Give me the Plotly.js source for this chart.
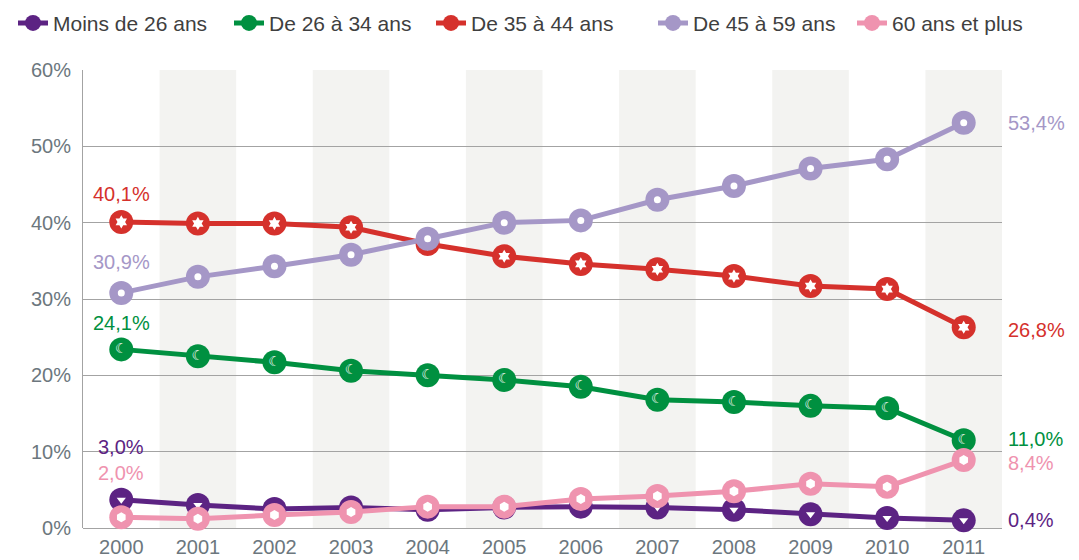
<!DOCTYPE html>
<html>
<head>
<meta charset="utf-8">
<script src="https://cdn.plot.ly/plotly-3.0.1.min.js"></script>
<style>html,body{margin:0;padding:0;background:#fff;}#chart{width:1079px;height:560px;}</style>
</head>
<body>
<div id="chart"></div>
<script>
// ---- data ----
var years = [2000, 2001, 2002, 2003, 2004, 2005, 2006, 2007, 2008, 2009, 2010, 2011];
var seriesNames = ['Moins de 26 ans', 'De 26 à 34 ans', 'De 35 à 44 ans', 'De 45 à 59 ans', '60 ans et plus'];
var moins26 = [3.7, 3.0, 2.5, 2.7, 2.4, 2.7, 2.8, 2.7, 2.4, 1.8, 1.3, 1.0];
var de26a34 = [23.4, 22.5, 21.7, 20.6, 20.0, 19.4, 18.5, 16.8, 16.5, 16.0, 15.7, 11.5];
var de35a44 = [40.1, 39.9, 39.9, 39.4, 37.2, 35.6, 34.6, 33.9, 33.0, 31.7, 31.3, 26.3];
var de45a59 = [30.8, 32.9, 34.3, 35.8, 37.9, 40.0, 40.3, 43.0, 44.8, 47.1, 48.3, 53.1];
var plus60 = [1.4, 1.2, 1.7, 2.1, 2.8, 2.8, 3.8, 4.2, 4.8, 5.8, 5.4, 8.9];
var startLabels = ['3,0%', '24,1%', '40,1%', '30,9%', '2,0%'];
var endLabels = ['0,4%', '11,0%', '26,8%', '53,4%', '8,4%'];
var yTicks = [0, 10, 20, 30, 40, 50, 60];

// ---- styles ----
var allSeries = [moins26, de26a34, de35a44, de45a59, plus60];
var colors = ['#5c2383', '#009040', '#d5312c', '#a597c7', '#ef93af'];
var innerSymbols = ['triangle-down', null, 'hexagram', 'circle', 'hexagon'];
var innerSizes = [8, 0, 10, 7, 10];
var startShift = [53, 26, 28, 31, 44];
var endShift = [0, 1, -3, 0, -3];
var legendLeft = [13, 229, 431, 653, 852];
var FONT = 'Liberation Sans, Arial, sans-serif';

var traces = [];
allSeries.forEach(function (vals, i) {
  var lg = i === 0 ? 'legend' : 'legend' + (i + 1);
  traces.push({
    x: years, y: vals, name: seriesNames[i], type: 'scatter', mode: 'lines+markers',
    line: {color: colors[i], width: 5},
    marker: {color: colors[i], size: 24, symbol: 'circle'},
    legend: lg,
    cliponaxis: false, hoverinfo: 'skip'
  });
  if (innerSymbols[i]) {
    traces.push({
      x: years, y: vals, type: 'scatter', mode: 'markers', showlegend: false,
      marker: {color: '#ffffff', size: innerSizes[i], symbol: innerSymbols[i], line: {width: 0}},
      cliponaxis: false, hoverinfo: 'skip'
    });
  } else {
    traces.push({
      x: years, y: vals, type: 'scatter', mode: 'text', showlegend: false,
      text: years.map(function () { return '☾'; }),
      textfont: {color: '#ffffff', size: 14, family: 'DejaVu Sans'},
      textposition: 'middle center',
      cliponaxis: false, hoverinfo: 'skip'
    });
  }
});

var shapes = [];
years.forEach(function (yr, k) {
  if (k % 2 === 1) {
    shapes.push({type: 'rect', xref: 'x', yref: 'paper', x0: yr - 0.5, x1: yr + 0.5, y0: 0, y1: 1,
      fillcolor: '#f3f3f1', line: {width: 0}, layer: 'below'});
  }
});

var annotations = [];
allSeries.forEach(function (vals, i) {
  annotations.push({xref: 'x', yref: 'y', x: years[0], y: vals[0], text: startLabels[i],
    showarrow: false, xanchor: 'center', yanchor: 'middle', yshift: startShift[i],
    font: {family: FONT, size: 20, color: colors[i]}});
  annotations.push({xref: 'x', yref: 'y', x: years[years.length - 1], y: vals[vals.length - 1], text: endLabels[i],
    showarrow: false, xanchor: 'left', yanchor: 'middle', xshift: 42, yshift: endShift[i],
    font: {family: FONT, size: 20, color: colors[i]}});
});

var layout = {
  width: 1079, height: 560,
  margin: {l: 83, r: 77, t: 70, b: 32, pad: 0},
  paper_bgcolor: '#ffffff', plot_bgcolor: '#ffffff',
  font: {family: FONT, color: '#6c777e', size: 20},
  showlegend: true,
  xaxis: {range: [years[0] - 0.5, years[years.length - 1] + 0.5], tickvals: years, ticktext: years.map(String),
    showgrid: false, zeroline: false, showline: false, ticks: 'outside', ticklen: 1, tickcolor: 'rgba(0,0,0,0)',
    tickfont: {family: FONT, size: 20, color: '#6c777e'}, fixedrange: true},
  yaxis: {range: [0, 60], tickvals: yTicks, ticktext: yTicks.map(function (v) { return v + '%'; }),
    showgrid: true, gridcolor: '#a3a3a3', gridwidth: 1, zeroline: true, zerolinecolor: '#a3a3a3', zerolinewidth: 1,
    showline: true, linecolor: '#a3a3a3', linewidth: 1,
    ticks: 'outside', ticklen: 7, tickcolor: 'rgba(0,0,0,0)',
    tickfont: {family: FONT, size: 20, color: '#6c777e'}, fixedrange: true},
  shapes: shapes,
  annotations: annotations
};
legendLeft.forEach(function (px, i) {
  var key = i === 0 ? 'legend' : 'legend' + (i + 1);
  layout[key] = {orientation: 'h', xref: 'container', yref: 'container', x: px / 1079, y: 0.995,
    xanchor: 'left', yanchor: 'top', font: {family: FONT, size: 21, color: '#3f3f3f'},
    itemwidth: 30, bgcolor: 'rgba(0,0,0,0)'};
});

Plotly.newPlot('chart', traces, layout, {displayModeBar: false, staticPlot: true});
</script>
</body>
</html>
